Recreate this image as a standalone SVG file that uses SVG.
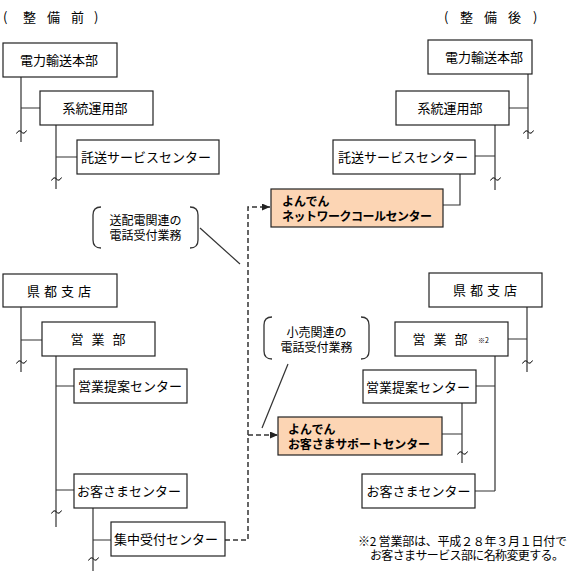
<svg xmlns="http://www.w3.org/2000/svg" width="579" height="581" viewBox="0 0 579 581">
<defs>
<style>
.box{fill:#fff;stroke:#222;stroke-width:1.2}
.hl{fill:#FCD5B4;stroke:#222;stroke-width:1.2}
.t{font-family:"Noto Sans CJK JP","Noto Sans CJK SC",sans-serif;font-size:13px;fill:#000;text-anchor:middle}
.s{font-family:"Noto Sans CJK JP","Noto Sans CJK SC",sans-serif;font-size:13px;fill:#000;text-anchor:start}
.b{font-family:"Noto Sans CJK JP","Noto Sans CJK SC",sans-serif;font-size:12px;font-weight:bold;fill:#000;text-anchor:start}
.c{font-family:"Noto Sans CJK JP","Noto Sans CJK SC",sans-serif;font-size:12px;fill:#000;text-anchor:middle}
.n{font-family:"Noto Sans CJK JP","Noto Sans CJK SC",sans-serif;font-size:12px;fill:#000;text-anchor:start}
.ln{fill:none;stroke:#333;stroke-width:1.2}
.dash{fill:none;stroke:#333;stroke-width:1.5;stroke-dasharray:5 3}
.br{fill:none;stroke:#333;stroke-width:1.3}
.til{fill:none;stroke:#000;stroke-width:1}
</style>
<marker id="ah" viewBox="0 0 8 7" refX="8" refY="3.5" markerWidth="8" markerHeight="7" markerUnits="userSpaceOnUse" orient="auto"><path d="M0,0 L8,3.5 L0,7 z" fill="#222"/></marker>
<path id="tl" class="til" d="M-5,1.5 Q-2.5,-3 0,0 Q2.5,3 5,-1.5"/>
</defs>
<rect width="579" height="581" fill="#fff"/>

<g id="headings">
<text class="s" x="3 23 47 71 94" y="22">(整備前)</text>
<text class="s" x="444 460 484 508 533" y="22">(整備後)</text>
</g>

<g id="connectors">
<!-- left top tree -->
<path class="ln" d="M21,77 V142 M21,108 H40 M56,125 V189 M56,157 H77"/>
<!-- left branch tree -->
<path class="ln" d="M21,307 V372 M21,340 H42 M56,356 V527 M56,386 H74 M56,490 H74 M93,508 V571 M93,540 H111"/>
<!-- right top tree -->
<path class="ln" d="M528,74 V139 M509,108 H528 M495,125 V190 M475,156 H495 M460,174 V205 H443"/>
<!-- right branch tree -->
<path class="ln" d="M527,307 V372 M508,339 H527 M495,356 V491 M476,386 H495 M475,491 H495 M462,403 V463 M442,434 H462"/>
<!-- tildes -->
<use href="#tl" x="21.5" y="132"/>
<use href="#tl" x="56.5" y="179"/>
<use href="#tl" x="21.5" y="362"/>
<use href="#tl" x="56.5" y="512"/>
<use href="#tl" x="93.5" y="559"/>
<use href="#tl" x="528.5" y="132"/>
<use href="#tl" x="495.5" y="179"/>
<use href="#tl" x="527.5" y="362"/>
<use href="#tl" x="462.5" y="453"/>
<!-- dashed transfer lines -->
<path class="dash" d="M225,540 H248 V207 H270" marker-end="url(#ah)"/>
<path class="dash" d="M248,435 H278" marker-end="url(#ah)"/>
<!-- callout pointers -->
<path class="ln" d="M200,228 L240,264"/>
<path class="ln" d="M288,364 L262,428"/>
</g>

<g id="callout-souhaiden">
<path class="br" d="M101,207 Q93,207 93,215 V240 Q93,248 101,248"/>
<path class="br" d="M190,207 Q198,207 198,215 V240 Q198,248 190,248"/>
<text class="c" x="145.5" y="225">送配電関連の</text>
<text class="c" x="145.5" y="240">電話受付業務</text>
</g>

<g id="callout-kouri">
<path class="br" d="M272,317 Q264,317 264,325 V351 Q264,359 272,359"/>
<path class="br" d="M361,317 Q369,317 369,325 V351 Q369,359 361,359"/>
<text class="c" x="316.5" y="337">小売関連の</text>
<text class="c" x="316.5" y="352">電話受付業務</text>
</g>

<!-- before (left) -->
<g id="L-denryoku">
<rect class="box" x="3" y="43" width="114" height="34"/>
<text class="t" x="59" y="65">電力輸送本部</text>
</g>
<g id="L-keitou">
<rect class="box" x="40" y="91" width="113" height="34"/>
<text class="t" x="95" y="113">系統運用部</text>
</g>
<g id="L-takusou">
<rect class="box" x="77" y="140" width="142" height="34"/>
<text class="t" x="146" y="162">託送サービスセンター</text>
</g>
<g id="L-kento">
<rect class="box" x="3" y="274" width="114" height="33"/>
<text class="s" x="27 44 61 78" y="296">県都支店</text>
</g>
<g id="L-eigyou">
<rect class="box" x="42" y="322" width="113" height="34"/>
<text class="s" x="70.5 91.5 112.5" y="344">営業部</text>
</g>
<g id="L-teian">
<rect class="box" x="74" y="369" width="113" height="34"/>
<text class="t" x="130" y="391">営業提案センター</text>
</g>
<g id="L-okyaku">
<rect class="box" x="74" y="474" width="113" height="34"/>
<text class="t" x="129" y="496">お客さまセンター</text>
</g>
<g id="L-shuchu">
<rect class="box" x="111" y="522" width="114" height="34"/>
<text class="t" x="166" y="544">集中受付センター</text>
</g>

<!-- after (right) -->
<g id="R-denryoku">
<rect class="box" x="428" y="40" width="104" height="34"/>
<text class="t" x="484" y="62">電力輸送本部</text>
</g>
<g id="R-keitou">
<rect class="box" x="396" y="91" width="113" height="34"/>
<text class="t" x="450" y="113">系統運用部</text>
</g>
<g id="R-takusou">
<rect class="box" x="333" y="140" width="142" height="34"/>
<text class="t" x="403" y="162">託送サービスセンター</text>
</g>
<g id="R-network">
<rect class="hl" x="271" y="189" width="172" height="38"/>
<text class="b" x="282" y="206">よんでん</text>
<text class="b" x="282" y="220.5" textLength="150" lengthAdjust="spacing">ネットワークコールセンター</text>
</g>
<g id="R-kento">
<rect class="box" x="429" y="273" width="113" height="34"/>
<text class="s" x="453 470 487 504" y="295">県都支店</text>
</g>
<g id="R-eigyou">
<rect class="box" x="395" y="322" width="113" height="34"/>
<text class="s" x="412.5 433.5 454.5" y="344">営業部</text>
<text class="n" x="478" y="343" style="font-size:7px">※2</text>
</g>
<g id="R-teian">
<rect class="box" x="363" y="370" width="113" height="33"/>
<text class="t" x="418" y="391.5">営業提案センター</text>
</g>
<g id="R-support">
<rect class="hl" x="278" y="417" width="164" height="38"/>
<text class="b" x="288" y="434">よんでん</text>
<text class="b" x="288" y="448.5" textLength="142" lengthAdjust="spacing">お客さまサポートセンター</text>
</g>
<g id="R-okyaku">
<rect class="box" x="362" y="474" width="113" height="34"/>
<text class="t" x="418.5" y="496">お客さまセンター</text>
</g>

<g id="footnote">
<text class="n" x="358" y="546" textLength="209" lengthAdjust="spacing">※2 営業部は、平成２８年３月１日付で</text>
<text class="n" x="370" y="560" textLength="194" lengthAdjust="spacing">お客さまサービス部に名称変更する。</text>
</g>
</svg>
